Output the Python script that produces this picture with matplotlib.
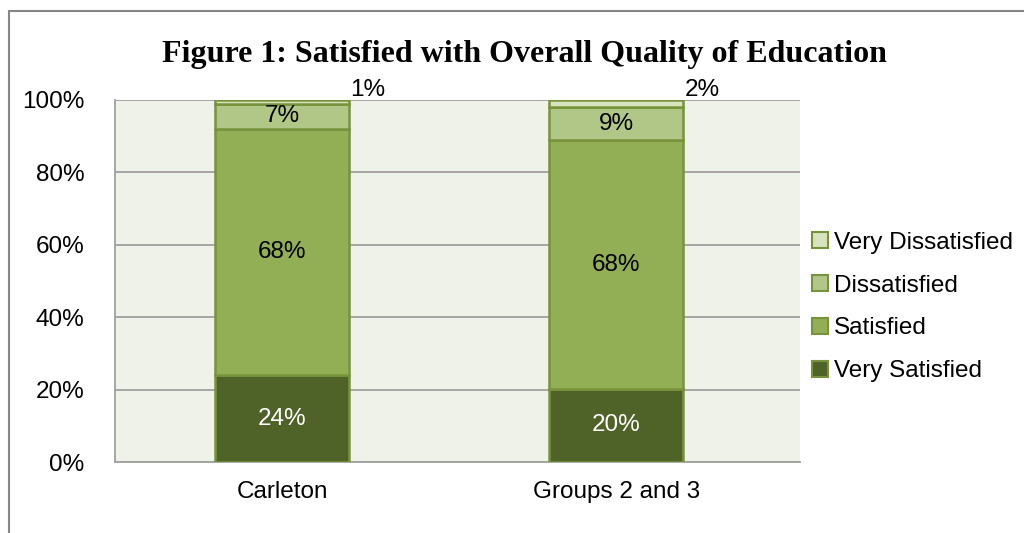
import numpy as np
import matplotlib.pyplot as plt
from matplotlib.patches import Patch, Rectangle

# -----------------------------
# Data (percent of respondents)
# -----------------------------
categories = ["Carleton", "Groups 2 and 3"]
series_names = ["Very Satisfied", "Satisfied", "Dissatisfied", "Very Dissatisfied"]
very_satisfied = [24, 20]
satisfied = [68, 68]
dissatisfied = [7, 9]
very_dissatisfied = [1, 2]

colors = ["#4F6228", "#92AF55", "#B0C788", "#D7E4BD"]
edge = "#77933C"
label_colors = ["white", "black", "black", "black"]

plt.rcParams['font.family'] = ['Liberation Sans', 'DejaVu Sans']
FS = 17.5

fig = plt.figure(figsize=(10.24, 5.33), dpi=100)
ax = fig.add_axes([0.1123, 0.1332, 0.78125 - 0.1123, 0.8124 - 0.1332])

vals = np.array([very_satisfied, satisfied, dissatisfied, very_dissatisfied], dtype=float)
totals = vals.sum(axis=0)
pct = vals / totals * 100.0   # 100% stacked
x = np.arange(len(categories))
width = 0.4

bottom = np.zeros(len(categories))
for k, name in enumerate(series_names):
    ax.bar(x, pct[k], width, bottom=bottom, color=colors[k], edgecolor=edge,
           linewidth=1.8, label=name, zorder=3)
    for i in range(len(categories)):
        txt = f"{int(vals[k, i])}%"
        if k == 3:
            # tiny top segment: label sits outside, up and right
            ax.annotate(txt, xy=(x[i] + width / 2, 100), xytext=(1, -1),
                        textcoords='offset points', ha='left', va='bottom',
                        fontsize=FS, color='black', annotation_clip=False)
        else:
            ax.text(x[i], bottom[i] + pct[k, i] / 2, txt, ha='center', va='center',
                    fontsize=FS, color=label_colors[k], zorder=4)
    bottom += pct[k]

ax.set_facecolor("#EFF2E9")
ax.set_xlim(-0.5, 1.55)
ax.set_ylim(0, 100)
ax.set_yticks(np.arange(0, 101, 20))
ax.set_yticklabels([f"{v}%" for v in range(0, 101, 20)])
ax.set_xticks(x)
ax.set_xticklabels(categories)
ax.tick_params(axis='both', length=0, labelsize=FS, pad=14)
ax.tick_params(axis='y', pad=22)
ax.yaxis.grid(True, color="#A0A0A0", linewidth=1.3, zorder=0)
ax.set_axisbelow(True)
for s in ['top', 'right']:
    ax.spines[s].set_visible(False)
for s in ['left', 'bottom']:
    ax.spines[s].set_color("#A0A0A0")
    ax.spines[s].set_linewidth(1.3)

fig.text(0.512, 0.898, "Figure 1: Satisfied with Overall Quality of Education",
         ha='center', va='center', fontsize=23, fontweight='bold',
         family=['Liberation Serif', 'DejaVu Serif'])

handles = [Patch(facecolor=colors[k], edgecolor=edge, linewidth=1.5) for k in range(4)]
fig.legend(handles[::-1], series_names[::-1], loc='center left',
           bbox_to_anchor=(0.772, 0.424), frameon=False, fontsize=FS,
           handlelength=0.65, handleheight=0.65, handletextpad=0.22, labelspacing=0.86)

# outer chart frame
fig.patches.append(Rectangle((8.5 / 1024, -0.2), 1.2, 1.2 - 10.5 / 533,
                             transform=fig.transFigure, fill=False,
                             edgecolor="#868686", linewidth=1.5))

fig.savefig("out.png", dpi=100)
